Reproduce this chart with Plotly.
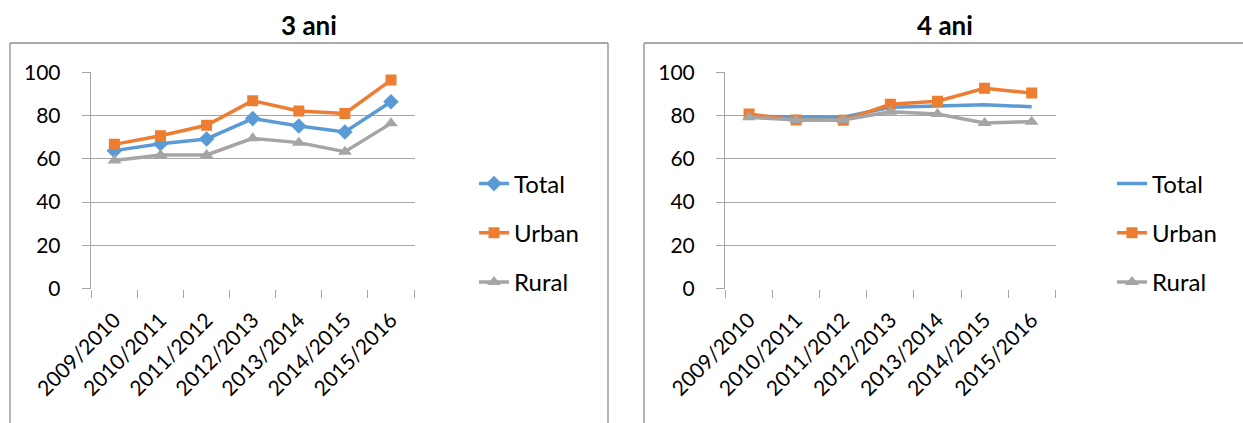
import plotly.graph_objects as go

W, H = 1243, 423

years = ["2009/2010", "2010/2011", "2011/2012", "2012/2013", "2013/2014", "2014/2015", "2015/2016"]

# 3 ani
total_3 = [63.8, 67.0, 69.2, 78.6, 75.2, 72.4, 86.4]
urban_3 = [66.7, 70.7, 75.5, 86.9, 82.1, 81.0, 96.4]
rural_3 = [59.2, 61.8, 61.8, 69.5, 67.5, 63.3, 76.4]

# 4 ani
total_4 = [79.6, 79.2, 79.2, 83.8, 84.6, 85.0, 84.1]
urban_4 = [80.7, 78.0, 77.8, 85.2, 86.6, 92.6, 90.4]
rural_4 = [79.2, 78.0, 78.0, 81.8, 80.7, 76.6, 77.2]

C_TOTAL = "#5B9BD5"
C_URBAN = "#ED7D31"
C_RURAL = "#A5A5A5"
GRID = "#A6A6A6"
BOX = "#8C8C8C"
FONT = "Lato"


def px_x(p):
    return p / W


def px_y(p):
    return 1 - p / H


fig = go.Figure()

# left chart traces
fig.add_trace(go.Scatter(x=years, y=total_3, name="Total", mode="lines+markers",
                         line=dict(color=C_TOTAL, width=3.5),
                         marker=dict(symbol="diamond", size=12, color=C_TOTAL),
                         xaxis="x", yaxis="y", legend="legend", legendgroup="t1"))
fig.add_trace(go.Scatter(x=years, y=urban_3, name="Urban", mode="lines+markers",
                         line=dict(color=C_URBAN, width=3.5),
                         marker=dict(symbol="square", size=11, color=C_URBAN),
                         xaxis="x", yaxis="y", legend="legend", legendgroup="u1"))
fig.add_trace(go.Scatter(x=years, y=rural_3, name="Rural", mode="lines+markers",
                         line=dict(color=C_RURAL, width=3.5),
                         marker=dict(symbol="triangle-up", size=12, color=C_RURAL),
                         xaxis="x", yaxis="y", legend="legend", legendgroup="r1"))

# right chart traces
fig.add_trace(go.Scatter(x=years, y=total_4, name="Total", mode="lines",
                         line=dict(color=C_TOTAL, width=3.5),
                         xaxis="x2", yaxis="y2", legend="legend2", legendgroup="t2"))
fig.add_trace(go.Scatter(x=years, y=urban_4, name="Urban", mode="lines+markers",
                         line=dict(color=C_URBAN, width=3.5),
                         marker=dict(symbol="square", size=11, color=C_URBAN),
                         xaxis="x2", yaxis="y2", legend="legend2", legendgroup="u2"))
fig.add_trace(go.Scatter(x=years, y=rural_4, name="Rural", mode="lines+markers",
                         line=dict(color=C_RURAL, width=3.5),
                         marker=dict(symbol="triangle-up", size=12, color=C_RURAL),
                         xaxis="x2", yaxis="y2", legend="legend2", legendgroup="r2"))

tick_font = dict(family=FONT, size=21, color="#000000")

xcommon = dict(type="category", tickson="boundaries", ticks="outside", ticklen=8,
               tickcolor=GRID, showgrid=False, showline=False, zeroline=False,
               tickangle=-45, tickfont=tick_font, fixedrange=True, automargin=False,
               ticklabelstandoff=14)
ycommon = dict(range=[0, 100], dtick=20, showgrid=True, gridcolor=GRID, gridwidth=1,
               showline=True, linecolor=GRID, linewidth=1, ticks="outside", ticklen=8,
               tickcolor=GRID, zeroline=False, tickfont=tick_font,
               ticklabelstandoff=17, fixedrange=True, automargin=False)

yd = [px_y(288.7), px_y(72.3)]


def vline(x, y_top):
    return dict(type="line", xref="paper", yref="paper", x0=px_x(x), x1=px_x(x),
                y0=0, y1=px_y(y_top), line=dict(color=BOX, width=1.3), layer="below")


def hline(xa, xb, y):
    return dict(type="line", xref="paper", yref="paper", x0=px_x(xa), x1=px_x(xb),
                y0=px_y(y), y1=px_y(y), line=dict(color=BOX, width=1.3), layer="below")


legend_font = dict(family=FONT, size=24, color="#000000")

fig.update_layout(
    width=W, height=H, autosize=False,
    margin=dict(l=0, r=0, t=0, b=0, pad=0, autoexpand=False),
    paper_bgcolor="white", plot_bgcolor="white",
    xaxis=dict(domain=[px_x(90.7), px_x(414.7)], anchor="y", **xcommon),
    yaxis=dict(domain=yd, anchor="x", **ycommon),
    xaxis2=dict(domain=[px_x(725), px_x(1055.7)], anchor="y2", **xcommon),
    yaxis2=dict(domain=yd, anchor="x2", **ycommon),
    legend=dict(x=px_x(474), y=px_y(233), xanchor="left", yanchor="middle",
                font=legend_font, tracegroupgap=15, bgcolor="rgba(0,0,0,0)"),
    legend2=dict(x=px_x(1112), y=px_y(233), xanchor="left", yanchor="middle",
                 font=legend_font, tracegroupgap=15, bgcolor="rgba(0,0,0,0)"),
    showlegend=True,
    shapes=[
        hline(10, 608, 43), vline(10, 43), vline(608, 43),
        hline(644, 1243, 43), vline(644, 43),
    ],
    annotations=[
        dict(text="<b>3 ani</b>", xref="paper", yref="paper", x=px_x(309), y=px_y(25),
             xanchor="center", yanchor="middle", showarrow=False,
             font=dict(family=FONT, size=26, color="#000000")),
        dict(text="<b>4 ani</b>", xref="paper", yref="paper", x=px_x(945), y=px_y(25),
             xanchor="center", yanchor="middle", showarrow=False,
             font=dict(family=FONT, size=26, color="#000000")),
    ],
)

fig.write_html("out.html", config={"displayModeBar": False},
               post_script="document.body.style.margin='0';")
